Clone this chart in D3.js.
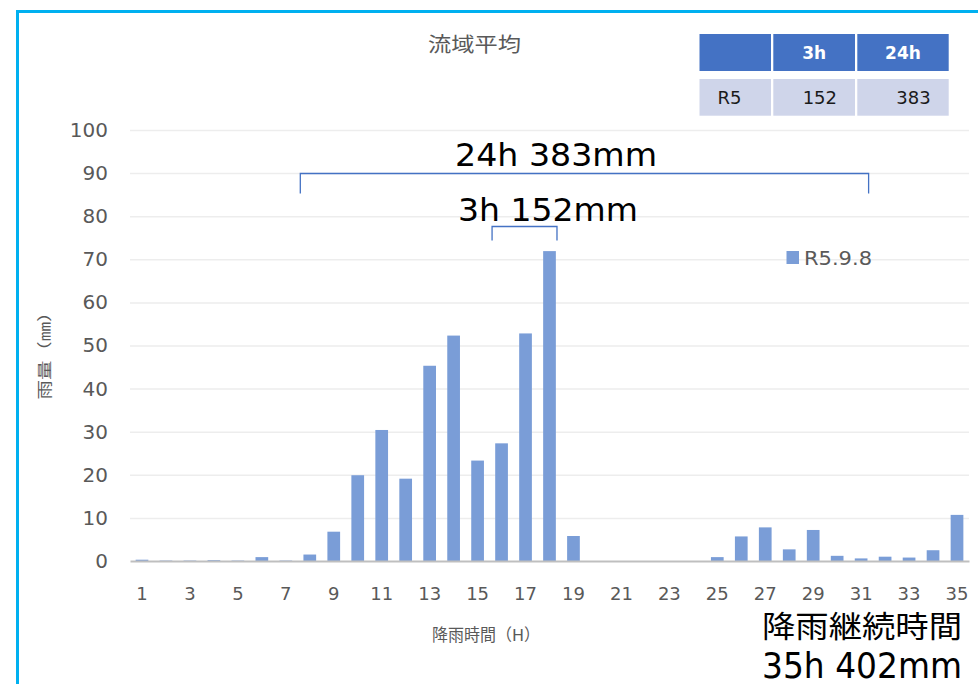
<!DOCTYPE html>
<html>
<head>
<meta charset="utf-8">
<script src="https://cdn.jsdelivr.net/npm/d3@7"></script>
<style>
  html, body { margin: 0; padding: 0; background: #ffffff; }
  svg { display: block; }
  text { font-family: "DejaVu Sans", "Noto Sans CJK JP", sans-serif; }
</style>
</head>
<body>
<script>
// Hourly basin-average rainfall, event of R5.9.8
const hours = [1, 2, 3, 4, 5, 6, 7, 8, 9, 10, 11, 12, 13, 14, 15, 16, 17, 18,
               19, 20, 21, 22, 23, 24, 25, 26, 27, 28, 29, 30, 31, 32, 33, 34, 35];
const rain = [0.3, 0.1, 0.1, 0.2, 0.1, 0.9, 0.1, 1.5, 6.8, 19.9, 30.4, 19.1,
              45.3, 52.3, 23.3, 27.3, 52.8, 71.9, 5.8, 0, 0, 0, 0, 0,
              0.9, 5.7, 7.8, 2.7, 7.2, 1.2, 0.6, 1.0, 0.8, 2.5, 10.7];
const seriesName = "R5.9.8";
const yTicks = [0, 10, 20, 30, 40, 50, 60, 70, 80, 90, 100];
const xTicks = [1, 3, 5, 7, 9, 11, 13, 15, 17, 19, 21, 23, 25, 27, 29, 31, 33, 35];

// Summary table
const tableHeader = ["", "3h", "24h"];
const tableRow = ["R5", "152", "383"];

// Bracketed rainfall totals
const spanLabels = ["24h 383mm", "3h 152mm"];
const spanFrom = [8, 16];
const spanTo = [31, 18];

const chartTitle = "流域平均";
const yTitle = "雨量（㎜）";
const xTitle = "降雨時間（H）";
const durationLines = ["降雨継続時間", "35h 402mm"];

const W = 978, H = 684;
const svg = d3.select("body").append("svg").attr("width", W).attr("height", H);

const plot = { left: 130, right: 969, top: 130, bottom: 561 };

const x = d3.scaleBand().domain(hours)
  .range([plot.left, plot.right]).paddingInner(0.47).paddingOuter(0.235);
const y = d3.scaleLinear().domain([0, 100]).range([plot.bottom, plot.top]);

const grey = "#595959";
const barColor = "#7A9DD7";
const blue = "#4472C4";

// Outer frame
svg.append("rect")
  .attr("x", 17.5).attr("y", 11.5).attr("width", W + 20).attr("height", H + 20)
  .attr("fill", "none").attr("stroke", "#00B0F0").attr("stroke-width", 3);

// Gridlines
svg.append("g")
  .attr("transform", `translate(${plot.left},0)`)
  .call(d3.axisLeft(y).tickValues(yTicks.filter(v => v > 0)).tickSize(-(plot.right - plot.left)).tickFormat(""))
  .call(g => g.select(".domain").remove())
  .call(g => g.selectAll("line").attr("stroke", "#EDEDED").attr("stroke-width", 1.5));

// Y axis labels
svg.append("g")
  .attr("transform", `translate(${plot.left},0)`)
  .call(d3.axisLeft(y).tickValues(yTicks).tickSize(0).tickPadding(22))
  .call(g => g.select(".domain").remove())
  .call(g => g.selectAll("text")
    .attr("fill", grey).style("font-size", "20px")
    .style("font-family", "'DejaVu Sans', sans-serif"));

// Bars
svg.append("g").selectAll("rect")
  .data(hours)
  .join("rect")
  .attr("x", (d) => x(d))
  .attr("width", x.bandwidth())
  .attr("y", (d, i) => y(rain[i]))
  .attr("height", (d, i) => y(0) - y(rain[i]))
  .attr("fill", barColor);

// X axis
svg.append("g")
  .attr("transform", `translate(0,${plot.bottom})`)
  .call(d3.axisBottom(x).tickValues(xTicks).tickSize(0).tickPadding(26))
  .call(g => g.select(".domain").attr("stroke", "#BFBFBF").attr("stroke-width", 2))
  .call(g => g.selectAll("text")
    .attr("fill", grey).style("font-size", "18px")
    .style("font-family", "'DejaVu Sans', sans-serif"));

// Title
svg.append("text")
  .attr("x", 474.5).attr("y", 52)
  .attr("text-anchor", "middle")
  .attr("fill", grey).style("font-size", "20px")
  .attr("textLength", 93).attr("lengthAdjust", "spacingAndGlyphs")
  .text(chartTitle);

// Axis titles
svg.append("text")
  .attr("transform", "translate(50,351) rotate(-90)")
  .attr("text-anchor", "middle")
  .attr("fill", grey).style("font-size", "15px")
  .attr("textLength", 97).attr("lengthAdjust", "spacingAndGlyphs")
  .text(yTitle);

svg.append("text")
  .attr("x", 486).attr("y", 641)
  .attr("text-anchor", "middle")
  .attr("fill", grey).style("font-size", "16.5px")
  .attr("textLength", 108).attr("lengthAdjust", "spacingAndGlyphs")
  .text(xTitle);

// Legend
const legend = svg.append("g");
legend.append("rect")
  .attr("x", 786.5).attr("y", 251).attr("width", 12.5).attr("height", 13)
  .attr("fill", barColor);
legend.append("text")
  .attr("x", 804).attr("y", 265)
  .attr("fill", grey).style("font-size", "20px")
  .attr("textLength", 68).attr("lengthAdjust", "spacingAndGlyphs")
  .text(seriesName);

// Brackets over the rainfall spans
const bracketLevels = [90, 77.7];
const bracketDrop = [20, 14];
const labelPos = [[556, 166], [548, 221]];
const labelLen = [202, 180];
spanLabels.forEach((label, i) => {
  const x0 = x(spanFrom[i]) - x.step() * x.paddingInner() / 2 + 2.5;
  const x1 = x(spanTo[i]) + x.bandwidth() + x.step() * x.paddingInner() / 2 - 4.5;
  const yb = Math.round(y(bracketLevels[i])) + 0.5;
  svg.append("path")
    .attr("d", `M${x0},${yb + bracketDrop[i]}V${yb}H${x1}V${yb + bracketDrop[i]}`)
    .attr("fill", "none").attr("stroke", blue).attr("stroke-width", 1.3);
  svg.append("text")
    .attr("x", labelPos[i][0]).attr("y", labelPos[i][1])
    .attr("text-anchor", "middle")
    .attr("fill", "#000").style("font-size", "32px")
    .attr("textLength", labelLen[i]).attr("lengthAdjust", "spacingAndGlyphs")
    .text(label);
});

// Summary table
const colX = [699.5, 773.3, 857.3];
const colW = [71.5, 81.7, 91.4];
const rowY = [34, 79];
const rowH = [37, 36.7];
tableHeader.forEach((t, c) => {
  svg.append("rect").attr("x", colX[c]).attr("y", rowY[0])
    .attr("width", colW[c]).attr("height", rowH[0]).attr("fill", blue);
  svg.append("text")
    .attr("x", colX[c] + colW[c] / 2).attr("y", rowY[0] + rowH[0] / 2 + 6.5)
    .attr("text-anchor", "middle").attr("fill", "#fff")
    .style("font-size", "17px").style("font-weight", "bold")
    .text(t);
});
tableRow.forEach((t, c) => {
  svg.append("rect").attr("x", colX[c]).attr("y", rowY[1])
    .attr("width", colW[c]).attr("height", rowH[1]).attr("fill", "#CFD5EA");
  svg.append("text")
    .attr("x", c === 0 ? colX[c] + 18 : colX[c] + colW[c] - 18)
    .attr("y", rowY[1] + rowH[1] / 2 + 6.5)
    .attr("text-anchor", c === 0 ? "start" : "end").attr("fill", "#1a1a1a")
    .style("font-size", "18px")
    .text(t);
});

// Rain duration note
svg.append("text")
  .attr("x", 762).attr("y", 637)
  .attr("fill", "#000").style("font-size", "30px")
  .attr("textLength", 200).attr("lengthAdjust", "spacingAndGlyphs")
  .text(durationLines[0]);
svg.append("text")
  .attr("x", 762).attr("y", 678)
  .attr("fill", "#000").style("font-size", "35px")
  .attr("textLength", 200).attr("lengthAdjust", "spacingAndGlyphs")
  .text(durationLines[1]);
</script>
</body>
</html>
